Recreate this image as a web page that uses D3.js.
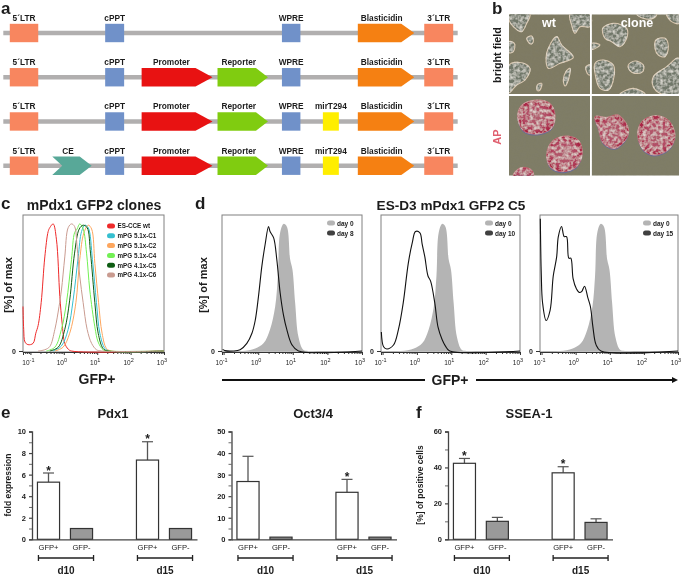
<!DOCTYPE html>
<html lang="en">
<head>
<meta charset="UTF-8"/>
<title>mPdx1 GFP2 reporter figure</title>
<script src="https://d3js.org/d3.v7.min.js"></script>
<style>
    body { margin: 0; background: #fff; }
    svg { display: block; filter: blur(0.35px); }
    text { font-family: "Liberation Sans", Arial, sans-serif; fill: #1c1c1c; }
</style>
</head>
<body>
<script>
    // ---------- panel a: vector constructs (schematic positions in kb) ----------
    var featureNames = ["5´LTR", "CE", "cPPT", "Promoter", "Reporter", "WPRE", "mirT294", "Blasticidin", "3´LTR"];
    var featureStart = [0.13, 0.98, 2.04, 2.77, 4.29, 5.58, 6.40, 7.10, 8.43];
    var featureEnd   = [0.70, 1.77, 2.42, 4.19, 5.30, 5.95, 6.72, 8.23, 9.01];
    var constructs = [
        ["5´LTR", "cPPT", "WPRE", "Blasticidin", "3´LTR"],
        ["5´LTR", "cPPT", "Promoter", "Reporter", "WPRE", "Blasticidin", "3´LTR"],
        ["5´LTR", "cPPT", "Promoter", "Reporter", "WPRE", "mirT294", "Blasticidin", "3´LTR"],
        ["5´LTR", "CE", "cPPT", "Promoter", "Reporter", "WPRE", "mirT294", "Blasticidin", "3´LTR"]
    ];

    // ---------- panels c and d: flow cytometry, [fluorescence, % of max] ----------
    var tickDecades = [0.1, 1, 10, 100, 1000];

    var cloneNames = ["ES-CCE wt", "mPG 5.1x-C1", "mPG 5.1x-C2", "mPG 5.1x-C4", "mPG 4.1x-C5", "mPG 4.1x-C6"];
    var esCceWt = [[0.06,35],[0.063,17],[0.069,7],[0.085,5],[0.12,6],[0.145,14],[0.17,20],[0.21,38],[0.27,74],[0.34,94],[0.38,97],[0.48,100],[0.6,88],[0.76,43],[0.89,22],[1.07,6],[1.35,1.5],[1.7,0],[1000,0]];
    var mpgC1 = [[0.48,0],[0.85,4],[1.35,17],[1.9,40],[2.7,74],[3.4,94],[4.3,99],[5.4,97],[7.2,72],[9.5,38],[12,14],[17,2],[24,0],[1000,0]];
    var mpgC2 = [[0.54,0],[0.95,3],[1.5,14],[2.3,38],[3,72],[4,93],[5.4,99],[6.8,96],[8.5,69],[11,38],[14,14],[19,2],[27,0],[1000,0]];
    var mpgC4 = [[0.3,0],[0.54,3],[0.85,17],[1.2,38],[1.7,72],[2.1,93],[2.5,96],[3,100],[3.8,96],[4.8,77],[6,48],[8.5,19],[10.7,7],[15,1],[21,0],[1000,0]];
    var mpgC5 = [[0.38,0],[0.68,3],[1.07,17],[1.5,40],[2.1,77],[2.9,96],[3.8,99],[5,97],[6.3,77],[8.5,38],[10.7,14],[15,2],[21,0],[1000,0]];
    var mpgC6 = [[0.17,0],[0.27,1],[0.38,3.5],[0.54,17],[0.72,35],[0.85,48],[1.07,74],[1.35,97],[1.7,100],[2.1,98],[2.5,82],[3,59],[3.8,38],[5,17],[6.8,6],[9.5,1],[13.5,0],[1000,0]];

    var day0 = [[0.09,0],[0.34,0],[0.82,2],[1.42,6],[2.2,17],[3.1,35],[3.7,59],[4.3,93],[5.4,100],[6.7,98],[8.4,72],[9.8,64],[11.7,38],[14.6,11],[20,1],[28,0],[1000,0]];
    var day8 = [[0.094,1.3],[0.11,0.3],[0.19,0],[0.3,1],[0.47,6],[0.66,14],[0.82,24],[1.02,43],[1.28,67],[1.59,84],[1.99,98],[2.2,94],[2.8,89],[3.45,72],[4.3,46],[5.4,28],[6.7,17],[9.4,5],[14.6,0],[1000,0]];
    var day10 = [[0.092,15],[0.107,3.4],[0.133,1.6],[0.208,4.7],[0.29,17],[0.4,38],[0.56,69],[0.73,85],[0.91,94],[1.22,93],[1.42,84],[1.7,74],[2.1,59],[2.5,55],[3.3,38],[4.1,19],[5.4,9],[6.7,4],[9,0],[1000,0]];
    var day15 = [[0.092,104],[0.098,61],[0.107,38],[0.136,24],[0.178,32],[0.22,59],[0.277,74],[0.31,90],[0.386,98],[0.46,90],[0.54,90],[0.63,73],[0.72,73],[0.84,57],[1.05,49],[1.3,46],[1.52,47],[1.82,51],[2.27,42],[2.7,35],[3.2,19],[3.95,5],[5.5,0],[1000,0]];
    var dayPanelNames = ["day 8", "day 10", "day 15"];

    // ---------- panels e and f: bars ----------
    var barSlots = ["d10 GFP+", "d10 GFP-", "gap", "d15 GFP+", "d15 GFP-"];
    var barKeys  = ["d10 GFP+", "d10 GFP-", "d15 GFP+", "d15 GFP-"];
    var pdx1Values = [5.3, 1, 7.35, 1];
    var pdx1Errors = [0.85, 0, 1.7, 0];
    var pdx1Stars  = [true, false, true, false];
    var octValues  = [26.8, 1, 21.8, 1];
    var octErrors  = [11.7, 0, 6, 0];
    var octStars   = [false, false, true, false];
    var sseaValues = [42.3, 10, 37, 9.4];
    var sseaErrors = [2.7, 2.2, 3.4, 2];
    var sseaStars  = [true, false, true, false];

    var svg = d3.select("body").append("svg").attr("width", 685).attr("height", 575);

    var defs = svg.append("defs");
    defs.append("filter").attr("id", "soft").append("feGaussianBlur").attr("stdDeviation", 0.7);
    var grain = defs.append("filter").attr("id", "grain").attr("x", 0).attr("y", 0).attr("width", 1).attr("height", 1);
    grain.append("feTurbulence").attr("type", "fractalNoise").attr("baseFrequency", 0.3).attr("numOctaves", 2).attr("seed", 4);
    grain.append("feColorMatrix").attr("values", "0 0 0 0 0.22  0 0 0 0 0.22  0 0 0 0 0.18  2.2 0 0 0 -0.75");
    // speckle that only shows inside a colony outline
    var mottle = defs.append("filter").attr("id", "mottle");
    mottle.append("feTurbulence").attr("type", "fractalNoise").attr("baseFrequency", 0.3).attr("numOctaves", 2).attr("seed", 11).attr("result", "n");
    mottle.append("feColorMatrix").attr("in", "n").attr("values", "0 0 0 0 0.8  0 0 0 0 0.78  0 0 0 0 0.72  1.7 0 0 0 -0.62").attr("result", "spots");
    mottle.append("feGaussianBlur").attr("in", "spots").attr("stdDeviation", 0.4).attr("result", "spotsSoft");
    mottle.append("feComposite").attr("in", "spotsSoft").attr("in2", "SourceAlpha").attr("operator", "in").attr("result", "clipped");
    var mottleMerge = mottle.append("feMerge");
    mottleMerge.append("feMergeNode").attr("in", "SourceGraphic");
    mottleMerge.append("feMergeNode").attr("in", "clipped");

    var apFill = defs.append("radialGradient").attr("id", "apFill");
    apFill.append("stop").attr("offset", "0%").attr("stop-color", "#b0606f");
    apFill.append("stop").attr("offset", "65%").attr("stop-color", "#b34a64");
    apFill.append("stop").attr("offset", "100%").attr("stop-color", "#a82042");

    function panelLetter(s, x, y) {
        svg.append("text").attr("x", x).attr("y", y).attr("font-size", 17).attr("font-weight", "bold").attr("fill", "#111").text(s);
    }
    panelLetter("a", 1, 13.5);
    panelLetter("b", 492, 13.5);
    panelLetter("c", 1, 209);
    panelLetter("d", 195, 209);
    panelLetter("e", 1, 418);
    panelLetter("f", 416, 418);

    // ---------- panel a ----------
    var geneX = d3.scaleLinear().domain([0, 9.1]).range([3.3, 457.7]);
    var rowY = d3.scalePoint().domain(d3.range(constructs.length)).range([33, 165.7]);
    var featureColor = d3.scaleOrdinal().domain(featureNames)
        .range(["#f8865f", "#58a898", "#7091c9", "#e81212", "#80cc10", "#7091c9", "#ffee00", "#f58012", "#f8865f"]);
    var arrowHead = { "Promoter": 17, "Reporter": 12, "Blasticidin": 13, "CE": 12 };
    var halfH = 9.2;

    function featurePath(name) {
        var i = featureNames.indexOf(name);
        var x0 = geneX(featureStart[i]), x1 = geneX(featureEnd[i]);
        var head = arrowHead[name];
        if (!head) return [[x0, -halfH], [x1, -halfH], [x1, halfH], [x0, halfH]];
        var pts = [[x0, -halfH], [x1 - head, -halfH], [x1, 0], [x1 - head, halfH], [x0, halfH]];
        if (name === "CE") pts.push([x0 + 10, 0]);
        return pts;
    }

    constructs.forEach(function(row, r) {
        var g = svg.append("g").attr("transform", "translate(0," + rowY(r) + ")");
        g.append("line").attr("x1", geneX(0)).attr("x2", geneX(9.1))
            .attr("stroke", "#b1afaf").attr("stroke-width", 4.4);
        g.selectAll("polygon").data(row).enter().append("polygon")
            .attr("points", function(d) { return featurePath(d).join(" "); })
            .attr("fill", function(d) { return featureColor(d); });
        g.selectAll("text").data(row).enter().append("text")
            .attr("x", function(d) {
                var i = featureNames.indexOf(d);
                return (geneX(featureStart[i]) + geneX(featureEnd[i])) / 2 - (arrowHead[d] || 0) / 3;
            })
            .attr("y", -12.2)
            .attr("text-anchor", "middle").attr("font-size", 8.3).attr("font-weight", "bold")
            .text(function(d) { return d; });
    });

    // ---------- panel b: micrographs, outlines read in crop units (3 per pixel) ----------
    var bx = d3.scaleLinear().domain([0, 615]).range([480, 685]);
    var by = d3.scaleLinear().domain([0, 555]).range([0, 185]);
    var microFrames = [[87, 43, 330, 282], [335, 43, 597, 282], [87, 288, 330, 527], [335, 288, 597, 527]];
    var brightColonies = [
        [[87,43],[150,43],[140,70],[125,95],[100,80],[87,60]],
        [[270,43],[330,43],[330,80],[300,80],[285,100],[275,75]],
        [[230,110],[245,135],[280,172],[240,190],[205,205],[198,175],[205,145]],
        [[87,195],[125,188],[150,205],[135,240],[110,255],[87,278]],
        [[140,115],[155,108],[160,125],[152,132]],
        [[87,125],[103,130],[100,155],[87,158]],
        [[258,215],[270,205],[265,240],[255,258],[250,240]],
        [[172,255],[185,250],[180,270],[172,272]],
        [[318,200],[330,195],[330,225],[322,220]],
        [[368,85],[400,70],[440,85],[440,115],[420,140],[395,125],[375,115]],
        [[528,120],[555,115],[565,140],[555,170],[535,165],[525,145]],
        [[345,190],[370,180],[400,195],[402,230],[385,270],[360,265],[347,230]],
        [[445,195],[465,183],[490,195],[488,215],[465,220],[450,212]],
        [[520,230],[560,200],[590,175],[597,175],[597,282],[545,282],[520,260]],
        [[335,130],[360,135],[340,148],[335,148]],
        [[420,282],[460,265],[495,282]],
        [[560,43],[597,43],[597,70],[575,65]],
        [[470,43],[530,43],[520,55],[490,55]]
    ];
    var apColonies = [
        [[113,350],[125,315],[170,300],[210,310],[225,345],[215,385],[170,402],[130,392]],
        [[200,465],[215,425],[255,408],[295,420],[307,460],[290,500],[245,515],[210,500]],
        [[100,527],[110,510],[130,502],[155,510],[160,527]],
        [[345,350],[380,352],[415,345],[445,385],[440,415],[405,445],[370,430],[355,385]],
        [[473,405],[485,365],[525,347],[565,360],[585,405],[570,445],[525,465],[490,450]]
    ];

    var blob = d3.line().x(function(d) { return bx(d[0]); }).y(function(d) { return by(d[1]); }).curve(d3.curveCatmullRomClosed);

    microFrames.forEach(function(f, i) {
        defs.append("clipPath").attr("id", "micro" + i).append("rect")
            .attr("x", bx(f[0])).attr("y", by(f[1])).attr("width", bx(f[2]) - bx(f[0])).attr("height", by(f[3]) - by(f[1]));
    });

    microFrames.forEach(function(f, i) {
        var g = svg.append("g").attr("clip-path", "url(#micro" + i + ")");
        g.append("rect").attr("x", bx(f[0])).attr("y", by(f[1])).attr("width", bx(f[2]) - bx(f[0])).attr("height", by(f[3]) - by(f[1]))
            .attr("fill", i < 2 ? "#7f7b63" : "#7f7d66");
        g.append("rect").attr("x", bx(f[0])).attr("y", by(f[1])).attr("width", bx(f[2]) - bx(f[0])).attr("height", by(f[3]) - by(f[1]))
            .attr("filter", "url(#grain)").attr("opacity", 0.15);
        if (i < 2) {
            g.selectAll("path.col").data(brightColonies).enter().append("path").attr("class", "col")
                .attr("d", blob).attr("fill", "#71786a").attr("stroke", "#d9c6ae").attr("stroke-width", 1.1)
                .attr("filter", "url(#mottle)");
        } else {
            g.selectAll("path.shadow").data(apColonies).enter().append("path").attr("class", "shadow")
                .attr("d", blob).attr("transform", "translate(0,1.5)").attr("fill", "#6a6d92").attr("filter", "url(#soft)");
            g.selectAll("path.col").data(apColonies).enter().append("path").attr("class", "col")
                .attr("d", blob).attr("fill", "url(#apFill)").attr("stroke", "#c96a76").attr("stroke-width", 0.8)
                .attr("filter", "url(#mottle)");
        }
    });

    svg.append("text").attr("x", 549).attr("y", 27).attr("text-anchor", "middle").attr("font-size", 12.5)
        .attr("font-weight", "bold").style("fill", "#fff").text("wt");
    svg.append("text").attr("x", 637).attr("y", 27).attr("text-anchor", "middle").attr("font-size", 12.5)
        .attr("font-weight", "bold").style("fill", "#fff").text("clone");
    svg.append("text").attr("transform", "translate(501,55) rotate(-90)").attr("text-anchor", "middle")
        .attr("font-size", 10.8).attr("font-weight", "bold").text("bright field");
    svg.append("text").attr("transform", "translate(501,137) rotate(-90)").attr("text-anchor", "middle")
        .attr("font-size", 11).attr("font-weight", "bold").style("fill", "#e0606f").text("AP");

    // ---------- panels c and d: histograms ----------
    var yFlow = d3.scaleLinear().domain([0, 107]).range([351, 215]);

    function flowFrame(xScale) {
        var x0 = xScale.range()[0], x1 = xScale.range()[1];
        svg.append("rect").attr("x", x0).attr("y", 215).attr("width", x1 - x0).attr("height", 137)
            .attr("fill", "none").attr("stroke", "#808080");

        var axis = d3.axisBottom(xScale).tickValues(xScale.ticks()).tickSize(3).tickFormat("");
        var gx = svg.append("g").attr("transform", "translate(0,352)").call(axis);
        gx.select(".domain").attr("stroke", "#333");
        gx.selectAll(".tick line").attr("stroke", "#333")
            .attr("y2", function(d) { return tickDecades.indexOf(d) >= 0 ? 3 : 2; });
        gx.selectAll(".tick text").remove();
        tickDecades.forEach(function(v) {
            var t = gx.append("text").attr("x", xScale(v) - 2).attr("y", 13).attr("text-anchor", "middle")
                .attr("font-size", 6.5).text("10");
            t.append("tspan").attr("font-size", 5.5).attr("dy", -3).text(Math.round(Math.log10(v)));
        });

        var gy = svg.append("g").attr("transform", "translate(" + x0 + ",0)")
            .call(d3.axisLeft(yFlow).tickValues([0]).tickSize(4));
        gy.select(".domain").remove();
        gy.selectAll("line").attr("stroke", "#333");
        gy.selectAll("text").attr("font-size", 7).attr("font-weight", "bold")
            .style("font-family", "'Liberation Sans', Arial, sans-serif");
    }

    function flowLine(xScale) {
        return d3.line().x(function(d) { return xScale(d[0]); }).y(function(d) { return yFlow(d[1]); }).curve(d3.curveCatmullRom);
    }

    // panel c
    var xClones = d3.scaleLog().domain([0.06, 1000]).range([23, 164]);
    var cloneColors = ["#ee2a2a", "#35bfd0", "#fda65e", "#72f054", "#0d5c12", "#c99b90"];
    var cloneSeries = [esCceWt, mpgC1, mpgC2, mpgC4, mpgC5, mpgC6];
    flowFrame(xClones);
    cloneSeries.forEach(function(series, i) {
        svg.append("path").attr("d", flowLine(xClones)(series)).attr("fill", "none")
            .attr("stroke", cloneColors[i]).attr("stroke-width", 1);
    });
    var legendY = d3.scalePoint().domain(cloneNames).range([226, 275]);
    cloneNames.forEach(function(name, i) {
        svg.append("rect").attr("x", 107).attr("y", legendY(name) - 2.5).attr("width", 8).attr("height", 5).attr("rx", 2.5)
            .attr("fill", cloneColors[i]);
        svg.append("text").attr("x", 117.5).attr("y", legendY(name) + 2.3).attr("font-size", 6.3).attr("font-weight", "bold").text(name);
    });

    svg.append("text").attr("x", 94).attr("y", 210).attr("text-anchor", "middle").attr("font-size", 14)
        .attr("font-weight", "bold").text("mPdx1 GFP2 clones");
    svg.append("text").attr("transform", "translate(12,285) rotate(-90)").attr("text-anchor", "middle")
        .attr("font-size", 11).attr("font-weight", "bold").text("[%] of max");
    svg.append("text").attr("x", 97).attr("y", 384).attr("text-anchor", "middle").attr("font-size", 14)
        .attr("font-weight", "bold").text("GFP+");

    // panel d
    var dayRanges = [[222, 362], [381, 520], [540, 678]];
    var daySeries = [day8, day10, day15];
    dayRanges.forEach(function(r, i) {
        var xDay = d3.scaleLog().domain([0.09, 1000]).range(r);
        var area = d3.area().x(function(d) { return xDay(d[0]); }).y0(yFlow(0)).y1(function(d) { return yFlow(d[1]); }).curve(d3.curveCatmullRom);
        svg.append("path").attr("d", area(day0)).attr("fill", "#b4b4b4");
        flowFrame(xDay);
        svg.append("path").attr("d", flowLine(xDay)(daySeries[i])).attr("fill", "none").attr("stroke", "#111").attr("stroke-width", 1.1);

        svg.append("rect").attr("x", r[1] - 35).attr("y", 220.5).attr("width", 8).attr("height", 5).attr("rx", 2.5).attr("fill", "#b4b4b4");
        svg.append("text").attr("x", r[1] - 25).attr("y", 225.5).attr("font-size", 6.5).attr("font-weight", "bold").text("day 0");
        svg.append("rect").attr("x", r[1] - 35).attr("y", 230.5).attr("width", 8).attr("height", 5).attr("rx", 2.5).attr("fill", "#404040");
        svg.append("text").attr("x", r[1] - 25).attr("y", 235.5).attr("font-size", 6.5).attr("font-weight", "bold").text(dayPanelNames[i]);
    });

    svg.append("text").attr("x", 451).attr("y", 210).attr("text-anchor", "middle").attr("font-size", 13.6)
        .attr("font-weight", "bold").text("ES-D3 mPdx1 GFP2 C5");
    svg.append("text").attr("transform", "translate(207,285) rotate(-90)").attr("text-anchor", "middle")
        .attr("font-size", 11).attr("font-weight", "bold").text("[%] of max");
    svg.append("text").attr("x", 450).attr("y", 385).attr("text-anchor", "middle").attr("font-size", 14)
        .attr("font-weight", "bold").text("GFP+");
    svg.append("line").attr("x1", 222).attr("x2", 425).attr("y1", 380).attr("y2", 380).attr("stroke", "#111").attr("stroke-width", 1.8);
    svg.append("line").attr("x1", 476).attr("x2", 674).attr("y1", 380).attr("y2", 380).attr("stroke", "#111").attr("stroke-width", 1.8);
    svg.append("path").attr("d", d3.line()([[672, 377], [678, 380], [672, 383]])).attr("fill", "#111");

    // ---------- panels e and f: bar charts ----------
    function barChart(cfg) {
        var x = d3.scaleBand().domain(barSlots).range(cfg.xRange).paddingInner(0.33).paddingOuter(0.165);
        var y = d3.scaleLinear().domain([0, cfg.max]).range([539.3, 431.5]);
        var bw = x.bandwidth();

        svg.append("text").attr("x", cfg.titleX).attr("y", 418).attr("text-anchor", "middle").attr("font-size", 13)
            .attr("font-weight", "bold").text(cfg.title);

        var gy = svg.append("g").attr("transform", "translate(" + cfg.xRange[0] + ",0)")
            .call(d3.axisLeft(y).tickValues(d3.range(0, cfg.max + 1, cfg.step)).tickSize(3).tickPadding(3)
                .tickFormat(function(d) { return d % (2 * cfg.step) === 0 ? d : ""; }));
        gy.select(".domain").attr("stroke", "#444").attr("stroke-width", 1.3);
        gy.selectAll(".tick line").attr("stroke", "#444").attr("stroke-width", function(d) { return d % (2 * cfg.step) === 0 ? 1.2 : 0.8; });
        gy.selectAll(".tick text").attr("font-size", 7.5).attr("font-weight", "bold")
            .style("font-family", "'Liberation Sans', Arial, sans-serif").style("fill", "#1c1c1c");

        var g = svg.append("g");
        // error bars behind the boxes
        g.selectAll("line.err").data(barKeys).enter().append("line").attr("class", "err")
            .attr("x1", function(d) { return x(d) + bw / 2; }).attr("x2", function(d) { return x(d) + bw / 2; })
            .attr("y1", function(d, i) { return y(cfg.values[i]); })
            .attr("y2", function(d, i) { return y(cfg.values[i] + cfg.errors[i]); })
            .attr("stroke", "#555").attr("stroke-width", 1.3);
        g.selectAll("line.cap").data(barKeys.filter(function(d, i) { return cfg.errors[i] > 0; })).enter().append("line").attr("class", "cap")
            .attr("x1", function(d) { return x(d) + bw / 2 - 5.5; }).attr("x2", function(d) { return x(d) + bw / 2 + 5.5; })
            .attr("y1", function(d) { var i = barKeys.indexOf(d); return y(cfg.values[i] + cfg.errors[i]); })
            .attr("y2", function(d) { var i = barKeys.indexOf(d); return y(cfg.values[i] + cfg.errors[i]); })
            .attr("stroke", "#555").attr("stroke-width", 1.2);
        g.selectAll("rect").data(barKeys).enter().append("rect")
            .attr("x", function(d) { return x(d); })
            .attr("y", function(d, i) { return y(cfg.values[i]); })
            .attr("width", bw)
            .attr("height", function(d, i) { return y(0) - y(cfg.values[i]); })
            .attr("fill", function(d) { return d.indexOf("+") > 0 ? "#fff" : "#9a9a9a"; })
            .attr("stroke", "#333").attr("stroke-width", 1.2);
        g.selectAll("text").data(barKeys.filter(function(d, i) { return cfg.stars[i]; })).enter().append("text")
            .attr("x", function(d) { return x(d) + bw / 2; })
            .attr("y", function(d) { var i = barKeys.indexOf(d); return y(cfg.values[i] + cfg.errors[i]) + 1.5; })
            .attr("text-anchor", "middle").attr("font-size", 12).attr("font-weight", "bold").text("*");

        var gx = svg.append("g").attr("transform", "translate(0,539.3)")
            .call(d3.axisBottom(x).tickSize(0).tickPadding(5.5).tickFormat(function(d) { return d === "gap" ? "" : d.slice(4); }));
        gx.select(".domain").attr("stroke", "#444").attr("stroke-width", 1.3);
        gx.selectAll(".tick text").attr("font-size", 7.6)
            .style("font-family", "'Liberation Sans', Arial, sans-serif").style("fill", "#222");

        [["d10 GFP+", "d10 GFP-", "d10"], ["d15 GFP+", "d15 GFP-", "d15"]].forEach(function(b) {
            var x0 = x(b[0]) + 1, x1 = x(b[1]) + bw + 1;
            svg.append("path").attr("d", d3.line()([[x0, 555], [x0, 561], [x0, 558], [x1, 558], [x1, 555], [x1, 561]]))
                .attr("fill", "none").attr("stroke", "#222").attr("stroke-width", 1.3);
            svg.append("text").attr("x", (x0 + x1) / 2).attr("y", 574).attr("text-anchor", "middle")
                .attr("font-size", 10).attr("font-weight", "bold").text(b[2]);
        });
    }

    barChart({ title: "Pdx1", titleX: 113, xRange: [32, 197], max: 10, step: 1, values: pdx1Values, errors: pdx1Errors, stars: pdx1Stars });
    barChart({ title: "Oct3/4", titleX: 313, xRange: [231.5, 396.5], max: 50, step: 5, values: octValues, errors: octErrors, stars: octStars });
    barChart({ title: "SSEA-1", titleX: 529, xRange: [448, 612.5], max: 60, step: 10, values: sseaValues, errors: sseaErrors, stars: sseaStars });

    svg.append("text").attr("transform", "translate(11,485) rotate(-90)").attr("text-anchor", "middle")
        .attr("font-size", 8.5).attr("font-weight", "bold").text("fold expression");
    svg.append("text").attr("transform", "translate(423,485) rotate(-90)").attr("text-anchor", "middle")
        .attr("font-size", 8.5).attr("font-weight", "bold").text("[%] of positive cells");
</script>
</body>
</html>
